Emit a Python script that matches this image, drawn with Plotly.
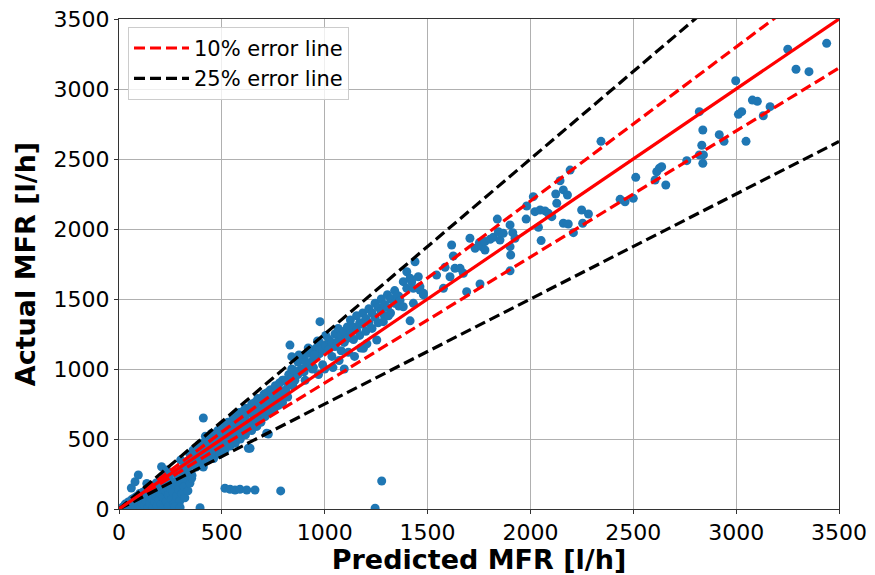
import plotly.graph_objects as go

# Predicted vs. actual mass flow rate [l/h], grouped by range of the prediction.
near_origin = [
    (15, 10), (25, 20), (30, 35), (40, 25), (45, 50), (50, 15), (55, 45), (60, 65), (65, 30),
    (70, 75), (75, 50), (80, 20), (85, 90), (90, 60), (95, 35), (100, 110), (100, 75), (105, 10),
    (110, 45), (115, 120), (120, 85), (125, 25), (130, 135), (130, 60), (140, 100), (140, 10),
    (145, 150), (150, 40), (155, 115), (160, 165), (160, 75), (165, 5), (170, 130), (175, 50),
    (180, 185), (180, 95), (185, 20), (190, 145), (195, 70), (200, 200), (200, 110), (205, 35),
    (210, 160), (215, 5), (215, 85), (220, 225), (225, 130), (230, 55), (235, 180), (240, 20),
    (240, 100), (245, 240), (250, 150), (255, 70), (260, 195), (262, 120), (265, 35), (270, 260),
    (275, 170), (280, 90), (280, 5), (285, 215), (290, 140), (295, 55), (300, 280), (300, 190),
    (305, 110), (310, 240), (315, 160), (320, 80), (325, 300), (330, 215), (335, 130), (340, 260),
    (345, 185), (350, 320), (353, 219), (355, 240), (272, 16), (297, 12), (394, 9),
    (60, 150), (78, 195), (94, 243), (135, 183), (207, 302), (232, 279),
]

low_band = [
    (300, 350), (315, 300), (315, 250), (330, 340), (330, 280), (345, 310), (345, 390), (360, 330),
    (360, 420), (375, 360), (375, 300), (390, 420), (390, 460), (405, 380), (405, 330), (420, 470),
    (420, 400), (435, 430), (435, 510), (450, 470), (450, 390), (465, 520), (465, 440), (480, 490),
    (480, 420), (495, 550), (495, 470), (510, 530), (510, 590), (525, 480), (525, 570), (540, 610),
    (540, 540), (555, 590), (555, 500), (570, 640), (570, 560), (585, 600), (585, 690), (600, 670),
    (600, 560), (615, 640), (615, 720), (630, 700), (630, 600), (645, 680), (645, 750), (660, 730),
    (660, 640), (675, 700), (675, 790), (690, 760), (690, 680), (705, 820), (705, 730), (720, 780),
    (720, 700), (735, 850), (735, 760), (750, 820), (750, 730), (765, 870), (765, 790), (780, 850),
    (780, 760), (795, 920), (795, 830),
    (360, 400), (370, 310), (380, 430), (390, 350), (400, 470), (400, 380), (410, 300), (418, 445),
    (420, 520), (425, 400), (430, 350), (440, 480), (450, 540), (455, 410), (460, 360), (470, 500),
    (480, 560), (485, 450), (490, 390), (500, 520), (505, 600), (510, 470), (515, 420), (520, 560),
    (530, 620), (535, 500), (540, 450), (550, 590), (555, 660), (560, 520), (565, 470), (575, 620),
    (580, 680), (585, 540), (590, 500), (600, 650), (605, 700), (610, 580), (615, 530), (620, 690),
    (629, 434), (635, 720), (637, 434), (640, 610), (645, 560), (650, 730), (660, 760), (665, 640),
    (670, 590), (680, 780), (685, 700), (690, 620), (700, 800), (705, 740), (710, 660), (718, 541),
    (720, 830), (726, 536), (730, 760), (735, 700), (740, 850), (750, 800), (755, 720), (760, 880),
    (770, 820), (775, 740), (780, 900), (790, 840), (795, 760), (800, 920),
    (410, 650),
]

low_outliers = [
    (515, 148), (540, 141), (564, 136), (588, 141), (621, 136), (661, 136), (786, 129),
    (1277, 200), (1245, 5),
]

mid_band = [
    (810, 910), (810, 850), (825, 960), (825, 890), (840, 940), (840, 1000), (855, 980), (855, 920),
    (870, 1050), (870, 960), (885, 1000), (885, 1090), (900, 1060), (900, 980), (915, 1110),
    (915, 1020), (930, 1040), (930, 1140), (945, 1070), (945, 1010), (960, 1150), (960, 1090),
    (975, 1110), (975, 1190), (990, 1140), (990, 1030), (1005, 1170), (1005, 1240), (1020, 1140),
    (1020, 1210), (1035, 1190), (1035, 1090), (1050, 1250), (1050, 1160), (1065, 1200),
    (1065, 1290), (1080, 1240), (1080, 1130), (1095, 1270), (1095, 1190), (1110, 1300),
    (1110, 1220), (1125, 1250), (1125, 1350), (1140, 1300), (1140, 1210), (1155, 1280),
    (1155, 1380), (1170, 1240), (1170, 1330), (1185, 1320), (1185, 1400), (1200, 1270),
    (1200, 1360), (1215, 1330), (1215, 1430), (1230, 1400), (1230, 1290), (1245, 1470),
    (1245, 1370), (1260, 1330), (1260, 1440), (1275, 1500), (1275, 1410), (1290, 1380),
    (1290, 1460), (1305, 1440), (1305, 1530), (1320, 1400), (1320, 1500), (1340, 1470),
    (1340, 1560), (1360, 1450), (1360, 1520),
    (820, 800), (831, 1171), (840, 1088), (845, 880), (850, 990), (875, 1100), (895, 1000),
    (905, 920), (910, 1050), (920, 1150), (940, 1000), (950, 1100), (965, 1200), (970, 960),
    (977, 1338), (1000, 1000), (1040, 1010), (1070, 1060), (1095, 1000), (1115, 1120),
    (1145, 1090), (1175, 1150), (1188, 1148), (1205, 1180), (1253, 1207), (1285, 1338),
    (1310, 1380), (1350, 1529), (1366, 1490),
]

upper_mid = [
    (1382, 1445), (1382, 1624), (1399, 1576), (1399, 1695), (1415, 1344), (1415, 1648),
    (1423, 1624), (1431, 1469), (1431, 1576), (1439, 1766), (1455, 1659), (1463, 1564),
    (1463, 1588), (1480, 1529), (1480, 1541), (1544, 1671), (1577, 1576), (1585, 1726),
    (1609, 1659), (1617, 1886), (1625, 1807), (1633, 1719), (1658, 1719), (1674, 1684),
    (1690, 1552), (1706, 1934), (1731, 1862), (1752, 1902), (1755, 1607), (1763, 1874),
    (1779, 1910), (1779, 1850), (1804, 1926), (1820, 1941), (1839, 2071), (1844, 1981),
    (1852, 1921), (1868, 1969), (1901, 2029), (1914, 1974), (1925, 1934), (1901, 1874),
    (1904, 1814), (1901, 1701), (1979, 2071), (1982, 2164), (2014, 2231), (2022, 2124),
    (2047, 2136), (2071, 2129), (2087, 2112), (2104, 2088), (2039, 2012), (2052, 1917),
]

high_range = [
    (2123, 2250), (2128, 2184), (2144, 2345), (2160, 2279), (2180, 2243), (2193, 2421),
    (2160, 2041), (2184, 2036), (2209, 1974), (2249, 2136), (2282, 2107), (2254, 2041),
    (2343, 2626), (2436, 2212), (2460, 2195), (2500, 2219), (2512, 2369), (2606, 2350),
    (2614, 2409), (2627, 2434), (2638, 2445), (2658, 2314), (2760, 2488), (2821, 2838),
    (2838, 2707), (2833, 2598), (2841, 2529), (2838, 2469), (2821, 2529), (2918, 2674),
    (2941, 2626), (2998, 3059), (3011, 2819), (3027, 2838), (3048, 2626), (3079, 2921),
    (3103, 2912), (3132, 2809), (3165, 2874), (3251, 3284), (3291, 3141), (3354, 3124),
    (3440, 3326),
]

axis_max = 3500
tick_values = [0, 500, 1000, 1500, 2000, 2500, 3000, 3500]

# Error bands: (relative error, colour, legend label)
error_bands = [(0.10, "#ff0000", "10% error line"), (0.25, "#000000", "25% error line")]

all_points = near_origin + low_band + low_outliers + mid_band + upper_mid + high_range
predicted = [p for p, _ in all_points]
actual = [a for _, a in all_points]

fig = go.Figure()

fig.add_trace(go.Scatter(
    x=predicted, y=actual, mode="markers",
    marker=dict(color="#1f77b4", size=9, line=dict(width=0)),
    showlegend=False, hoverinfo="skip",
))

line_x = [0, axis_max]
dash_style = "11px,5px"
for err, colour, label in error_bands:
    for k, factor in enumerate((1 + err, 1 - err)):
        fig.add_trace(go.Scatter(
            x=line_x, y=[v * factor for v in line_x], mode="lines",
            line=dict(color=colour, width=3.2, dash=dash_style),
            name=label, legendgroup=label, showlegend=(k == 0),
        ))

fig.add_trace(go.Scatter(
    x=line_x, y=line_x, mode="lines",
    line=dict(color="#ff0000", width=3.2), showlegend=False,
))

axis_common = dict(
    range=[0, axis_max], tickvals=tick_values, ticktext=[str(v) for v in tick_values],
    showgrid=True, gridcolor="#b0b0b0", gridwidth=1, zeroline=False,
    showline=True, linecolor="#333333", linewidth=1, mirror=True,
    ticks="outside", ticklen=4, tickcolor="#333333", automargin=False,
    tickfont=dict(family="DejaVu Sans", size=22, color="#000000"),
)

fig.update_layout(
    width=875, height=575,
    margin=dict(l=119, r=36, t=19, b=66),
    paper_bgcolor="white", plot_bgcolor="white",
    font=dict(family="DejaVu Sans", color="#000000"),
    xaxis=dict(**axis_common, title=dict(text="<b>Predicted MFR [l/h]</b>",
                                         font=dict(size=27), standoff=9)),
    yaxis=dict(**axis_common, title=dict(text="<b>Actual MFR [l/h]</b>",
                                         font=dict(size=27), standoff=10)),
    legend=dict(
        x=0.0125, y=0.984, xanchor="left", yanchor="top",
        font=dict(family="DejaVu Sans", size=21),
        bgcolor="rgba(255,255,255,0.8)", bordercolor="#cccccc", borderwidth=1,
        itemwidth=55, tracegroupgap=0,
    ),
)

fig.write_html("out.html")
